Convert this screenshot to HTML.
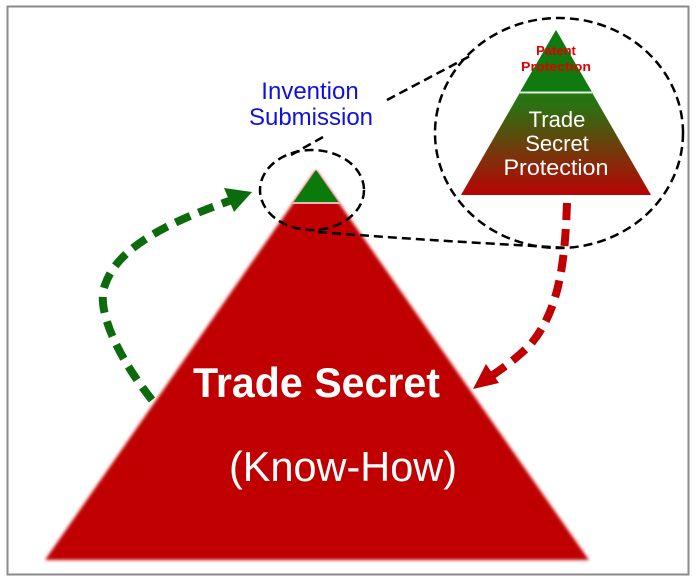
<!DOCTYPE html>
<html><head><meta charset="utf-8"><style>
html,body{margin:0;padding:0;background:#fff;width:697px;height:585px;overflow:hidden}
svg{display:block}
text{font-family:"Liberation Sans",Arial,sans-serif}
</style></head><body>
<svg width="697" height="585" viewBox="0 0 697 585" xmlns="http://www.w3.org/2000/svg">
<defs>
<linearGradient id="g" x1="0" y1="0" x2="0" y2="1">
<stop offset="0" stop-color="#1a7a12"/><stop offset="0.45" stop-color="#2a7212"/><stop offset="1" stop-color="#b80404"/>
</linearGradient>
<filter id="b" x="-5%" y="-5%" width="110%" height="110%"><feGaussianBlur stdDeviation="1.5"/></filter>
</defs>
<rect x="7.5" y="6.5" width="681" height="568" fill="#fff" stroke="#8a8a8a" stroke-width="2"/>
<polygon points="316,170 589,560 45,560" fill="#c00000" filter="url(#b)"/>
<polygon points="316,170 339,203 293,203" fill="#0a7a0a"/>
<rect x="292" y="202" width="48" height="2" fill="#e8b8b8"/>
<polygon points="556,30 651,195 461,195" fill="url(#g)"/>
<polygon points="556,30 592,92 520,92" fill="#0f7a0f"/>
<line x1="519" y1="92.5" x2="593" y2="92.5" stroke="#dfeedd" stroke-width="2"/>
<text x="556" y="55" font-size="13" font-weight="bold" fill="#e00000" text-anchor="middle">Patent</text>
<text x="556" y="71" font-size="13" font-weight="bold" fill="#e00000" text-anchor="middle" textLength="70" lengthAdjust="spacingAndGlyphs">Protection</text>
<text x="557" y="127" font-size="22" fill="#fff" text-anchor="middle">Trade</text>
<text x="557" y="151" font-size="22" fill="#fff" text-anchor="middle">Secret</text>
<text x="556" y="175" font-size="22" fill="#fff" text-anchor="middle" textLength="105" lengthAdjust="spacingAndGlyphs">Protection</text>
<g fill="none" stroke="#000" stroke-width="2.5" stroke-dasharray="9,5">
<ellipse cx="559" cy="133" rx="124" ry="115"/>
<ellipse cx="312" cy="190" rx="52" ry="40"/>
<line x1="387" y1="100" x2="472" y2="55"/>
<line x1="323" y1="137" x2="291" y2="155"/>
<path d="M318,232 C420,240 500,244 568,248"/>
</g>
<text x="310" y="99" font-size="24" fill="#1010e0" text-anchor="middle">Invention</text>
<text x="311" y="125" font-size="24" fill="#1010e0" text-anchor="middle">Submission</text>
<path d="M152,400 C120,360 95,310 105,285 C118,245 175,220 232,200" fill="none" stroke="#0c6b0c" stroke-width="8" stroke-dasharray="16,9"/>
<polygon points="252,192 224,188 234,212" fill="#0c6b0c"/>
<path d="M567,203 C565,260 560,310 530,345 C515,360 500,370 490,377" fill="none" stroke="#c00000" stroke-width="8" stroke-dasharray="17,9"/>
<polygon points="473,389 486,364 499,383" fill="#c00000"/>
<text x="193" y="397" font-size="42" font-weight="bold" fill="#fff" textLength="247" lengthAdjust="spacingAndGlyphs">Trade Secret</text>
<text x="229" y="481" font-size="42" fill="#fff" textLength="228" lengthAdjust="spacingAndGlyphs">(Know-How)</text>
</svg>
</body></html>
